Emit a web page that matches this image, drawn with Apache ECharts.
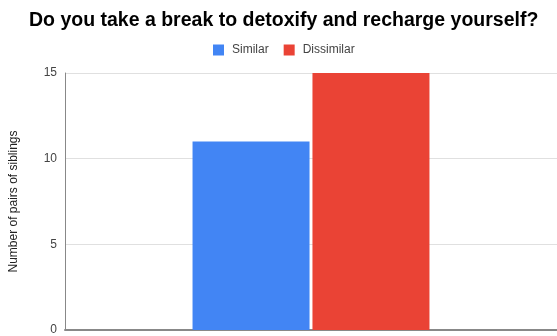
<!DOCTYPE html>
<html><head><meta charset="utf-8">
<script src="https://cdn.jsdelivr.net/npm/echarts@6/dist/echarts.min.js"></script>
<style>html,body{margin:0;padding:0;background:#fff;overflow:hidden}#c{width:557px;height:336px}</style>
</head><body><div id="c"></div>
<script>
var titleText = "Do you take a break to detoxify and recharge yourself?";
var categories = [""];
var seriesNames = ["Similar", "Dissimilar"];
var similarValues = [11];
var dissimilarValues = [15];
var yTicks = [0, 5, 10, 15];
var yAxisName = "Number of pairs of siblings";

var chart = echarts.init(document.getElementById('c'), null, {renderer: 'canvas'});
chart.setOption({
  animation: false,
  backgroundColor: '#fff',
  title: {
    text: titleText, left: 29, top: 11, padding: 0,
    textStyle: {fontFamily: 'Liberation Sans, Arial', fontSize: 19.5, fontWeight: 'bold', color: '#000'}
  },
  legend: {
    data: seriesNames, top: 44, left: 213, padding: 0,
    itemWidth: 11, itemHeight: 11, itemGap: 15,
    icon: 'rect',
    textStyle: {fontFamily: 'Liberation Sans, Arial', fontSize: 12, color: '#444', padding: [0, 0, 0, 3]}
  },
  grid: {left: 63, top: 73, width: 497, height: 260.5, containLabel: false},
  xAxis: {
    type: 'category', data: categories,
    axisLine: {lineStyle: {color: '#888', width: 2}},
    axisTick: {show: false}, axisLabel: {show: false}
  },
  yAxis: {
    type: 'value', min: yTicks[0], max: yTicks[yTicks.length - 1], interval: 5,
    name: yAxisName, nameLocation: 'middle', nameGap: 45, nameRotate: 90,
    nameTextStyle: {fontFamily: 'Liberation Sans, Arial', fontSize: 12, color: '#222'},
    axisLine: {show: true, lineStyle: {color: '#888', width: 1}},
    axisTick: {show: false},
    axisLabel: {fontFamily: 'Liberation Sans, Arial', fontSize: 12, color: '#444', margin: 8},
    splitLine: {lineStyle: {color: '#e0e0e0'}}
  },
  series: [
    {name: seriesNames[0], type: 'bar', data: similarValues, barWidth: 117, barGap: '2.5%',
     itemStyle: {color: '#4285F4'}},
    {name: seriesNames[1], type: 'bar', data: dissimilarValues, barWidth: 117,
     itemStyle: {color: '#EA4335'}}
  ]
});
</script></body></html>
